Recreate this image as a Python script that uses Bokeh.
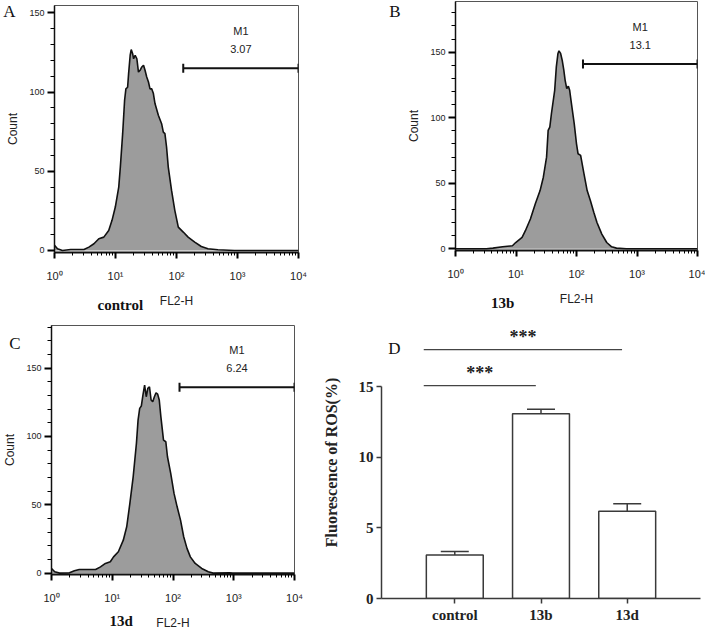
import math
from bokeh.plotting import figure
from bokeh.models import (Range1d, FixedTicker, Label, ColumnDataSource,
                          FactorRange, Whisker, TeeHead, LinearAxis)
from bokeh.layouts import row, column
from bokeh.embed import file_html
from bokeh.resources import INLINE

SANS = "Liberation Sans"
SERIF = "Liberation Serif"

# ---------------- data ----------------
# Panel A: control histogram (FL2-H intensity, count)
A_fl2 = [1.0, 1.12, 1.35, 1.84, 3.04, 3.66, 4.43, 5.33, 6.43, 7.74, 8.77, 9.93,
         11.3, 12.0, 13.1, 14.1, 14.8, 15.8, 16.4, 17.4, 18.1, 19.1, 19.8, 21.0,
         22.4, 23.8, 25.3, 27.0, 28.8, 30.5, 32.5, 34.7, 36.8, 39.2, 41.8, 44.4,
         50.4, 57.0, 60.8, 64.6, 68.7, 73.3, 83.0, 93.8, 107, 129, 155, 199, 255,
         328, 476, 887, 1140, 10000]
A_count = [3.2, 1.1, 0, 0.6, 0.6, 2.1, 4.2, 7.4, 8.4, 12.6, 19, 27.4,
           40, 52.6, 73.7, 94.8, 102, 103, 111.6, 123.2, 126.8, 124.2, 121, 123.2,
           121, 112.6, 113.7, 115.8, 116.9, 113.7, 109.5, 106.3, 102, 102, 99, 92.7,
           85.3, 80, 74.7, 73.7, 65.3, 52.6, 37.9, 25.3, 14.7, 11.6, 8.4, 5.3, 2.5,
           1.1, 0.4, 0, 0, 0]

# Panel B: 13b histogram
B_fl2 = [1.0, 3.24, 4.15, 6.01, 8.73, 9.88, 12.6, 14.3, 17.3, 20.8, 25.0, 28.3,
         32.0, 34.0, 36.2, 38.5, 43.6, 46.4, 49.4, 51.3, 54.6, 58.0, 61.7, 64.9,
         69.0, 73.4, 77.1, 81.1, 91.7, 100, 106, 117, 133, 150, 170, 193, 218,
         262, 316, 381, 458, 665, 851, 10000]
B_count = [0, 0, 0.5, 1.5, 2.3, 4.8, 8.7, 13.8, 22.7, 34.2, 44.4, 54.6,
           69.9, 90.3, 92.8, 103, 120.9, 138.7, 149, 151, 149, 143.8, 136.2, 128.5,
           122.2, 124, 120.9, 113.2, 95.4, 80.1, 72.5, 71.2, 57.2, 44.4, 36.7, 27.8, 20.1,
           11.2, 4.8, 1.5, 0.5, 0, 0, 0]

# Panel C: 13d histogram
C_fl2 = [1.0, 1.13, 1.36, 1.98, 2.38, 2.86, 5.32, 6.40, 7.71, 9.29, 10.5, 12.6,
         15.2, 17.3, 19.5, 22.1, 25.0, 26.6, 28.3, 30.1, 32.0, 34.1, 36.3, 38.5,
         41.0, 43.6, 46.4, 49.4, 52.5, 55.9, 59.4, 63.2, 69.8, 76.2, 81.1, 91.7,
         104, 117, 133, 150, 170, 193, 232, 297, 381, 458, 851, 964, 10000]
C_count = [3.4, 1.0, 0, 0.2, 1.7, 2.7, 2.7, 4.6, 7.1, 8.3, 11.9, 15.6,
           24.1, 33.9, 51, 70.4, 94.9, 111.9, 120.5, 122.2, 130.2, 137.5, 129, 135.1,
           136.3, 126.6, 125.3, 129, 131.9, 130.9, 126.6, 114.3, 97.3, 96.1, 85.1, 72.9,
           58.3, 48.5, 38.8, 26.6, 18.1, 11.9, 7.1, 3.4, 1.0, 0, 0.2, 0, 0]

# M1 marker (start intensity, height in counts, percentage text)
M1_start = [129, 128, 128]
M1_level = [115, 141, 136]
M1_pct = ["3.07", "13.1", "6.24"]
samples = ["control", "13b", "13d"]
letters = ["A", "B", "C", "D"]

# Panel D: bar chart
groups = ["control", "13b", "13d"]
ros_mean = [3.08, 13.07, 6.18]
ros_err = [0.24, 0.33, 0.52]
sig_pairs = [("control", "13b"), ("control", "13d")]
sig_levels = [15.07, 17.62]
sig_text = ["***", "***"]

# axis ticks / labels
x_major = [1, 10, 100, 1000, 10000]
x_minor = [m * 10 ** k for k in range(4) for m in range(2, 10)]
x_labels = {1: "10\u2070", 10: "10\u00b9", 100: "10\u00b2", 1000: "10\u00b3", 10000: "10\u2074"}

# ---------------- layout geometry (page pixels) ----------------
GEO = {
    "A": dict(x=0, y=0, w=340, h=316, frame=(52, 5, 298, 252)),
    "B": dict(x=340, y=0, w=365, h=316, frame=(455, 1, 697, 250)),
    "C": dict(x=0, y=316, w=318, h=316, frame=(45, 325, 294, 574)),
    "D": dict(x=318, y=316, w=387, h=316, frame=(381, 326, 700, 598)),
}
LETTER_POS = {"A": (13, 8), "B": (400, 8), "C": (14, 342.5), "D": (394, 347.5)}
SAMPLE_POS = {"A": (118, 307), "B": (502, 305), "C": (117, 623)}
Y_AXIS_EXTENT = 51     # measured width of the Count axis (ticks + labels + title)
X_AXIS_EXTENT = 61     # measured height of the FL2-H axis


def base_fig(g, **kw):
    fl, ft, fr, fb = g["frame"]
    p = figure(width=g["w"], height=g["h"], output_backend="svg", toolbar_location=None,
               min_border_left=fl - g["x"], min_border_right=g["x"] + g["w"] - fr,
               min_border_top=ft - g["y"], min_border_bottom=g["y"] + g["h"] - fb, **kw)
    try:
        p.frame_align = False
    except Exception:
        pass
    p.xgrid.visible = False
    p.ygrid.visible = False
    p.background_fill_color = "white"
    p.border_fill_color = "white"
    return p


def label_axis(standoff, **kw):
    return LinearAxis(axis_line_color=None, major_tick_line_color=None,
                      minor_tick_line_color=None, major_tick_in=0, major_tick_out=0,
                      minor_tick_in=0, minor_tick_out=0,
                      major_label_standoff=int(round(standoff)), **kw)


def flow_panel(key, fl2, count, y_lo, y_hi, y_top_tick, sample, m_start, m_level, m_pct):
    g = GEO[key]
    fl, ft, fr, fb = g["frame"]
    p = base_fig(g, x_axis_type="log", x_range=Range1d(1, 10000), y_range=Range1d(y_lo, y_hi))
    fw, fh = fr - fl, fb - ft
    pxc = fh / (y_hi - y_lo)

    def xdata(xp):
        return 10 ** ((xp - fl) / fw * 4)

    def ydata(yp):
        return y_hi - (yp - ft) / pxc

    p.outline_line_color = "#555555"
    p.outline_line_width = 1

    p.varea(x=fl2, y1=0, y2=count, fill_color="#9c9c9c")
    p.line(fl2, count, line_color="#111111", line_width=1.6)

    # M1 gate marker
    p.segment(x0=[m_start], y0=[m_level], x1=[10000], y1=[m_level],
              line_color="#111111", line_width=2)
    d = 4.5 / pxc
    p.segment(x0=[m_start, 10000], y0=[m_level - d] * 2, x1=[m_start, 10000],
              y1=[m_level + d] * 2, line_color="#111111", line_width=2)
    mid = math.sqrt(m_start * 10000)
    for txt, off in (("M1", 37), (m_pct, 19)):
        p.add_layout(Label(x=mid, y=m_level, y_offset=off, text=txt,
                           text_align="center", text_baseline="middle",
                           text_font=SANS, text_font_size="11px", text_color="#222222"))

    # main axes
    xa = p.xaxis[0]
    xa.ticker = FixedTicker(ticks=x_major, minor_ticks=x_minor)
    xa.major_label_overrides = x_labels
    xa.axis_label = "FL2-H"
    xa.axis_label_text_font = SANS
    xa.axis_label_text_font_style = "normal"
    xa.axis_label_text_font_size = "12px"
    xa.axis_label_text_color = "#222222"
    xa.axis_label_standoff = 9
    xa.major_label_text_font = SANS
    xa.major_label_text_font_size = "11px"
    xa.major_label_text_color = "#222222"
    xa.major_label_standoff = 11
    xa.axis_line_width = 2
    xa.axis_line_color = "#111111"
    xa.major_tick_in = 0
    xa.major_tick_out = 6
    xa.major_tick_line_width = 2
    xa.minor_tick_in = 0
    xa.minor_tick_out = 3
    xa.minor_tick_line_width = 1

    ya = p.yaxis[0]
    ya.ticker = FixedTicker(ticks=[0, 50, 100, 150],
                            minor_ticks=[v for v in range(10, y_top_tick + 1, 10) if v % 50])
    ya.axis_label = "Count"
    ya.axis_label_text_font = SANS
    ya.axis_label_text_font_style = "normal"
    ya.axis_label_text_font_size = "12px"
    ya.axis_label_text_color = "#222222"
    ya.axis_label_standoff = 6
    ya.major_label_text_font = SANS
    ya.major_label_text_font_size = "9px"
    ya.major_label_text_color = "#222222"
    ya.major_label_standoff = 3
    ya.axis_line_width = 1.5
    ya.axis_line_color = "#111111"
    ya.major_tick_in = 0
    ya.major_tick_out = 7
    ya.major_tick_line_width = 2
    ya.minor_tick_in = 0
    ya.minor_tick_out = 4
    ya.minor_tick_line_width = 1

    # panel letter: a label-only axis stacked outside the Count axis
    lx, ly = LETTER_POS[key]
    ly_d = int(round(ydata(ly)))
    la = label_axis((fl - Y_AXIS_EXTENT) - lx,
                    ticker=FixedTicker(ticks=[ly_d], minor_ticks=[]),
                    major_label_overrides={ly_d: key},
                    major_label_text_font=SERIF, major_label_text_font_size="17px",
                    major_label_text_color="#111111")
    p.add_layout(la, "left")

    # sample name: a label-only axis stacked below the FL2-H axis
    sx, sy = SAMPLE_POS[key]
    sx_d = int(round(xdata(sx)))
    sa = label_axis((sy - 8.5 - fb) - X_AXIS_EXTENT,
                    ticker=FixedTicker(ticks=[sx_d], minor_ticks=[]),
                    major_label_overrides={sx_d: sample},
                    major_label_text_font=SERIF, major_label_text_font_size="15px",
                    major_label_text_font_style="bold", major_label_text_color="#111111")
    p.add_layout(sa, "below")
    return p


pA = flow_panel("A", A_fl2, A_count, -1.3, 154.6, 150, samples[0], M1_start[0], M1_level[0], M1_pct[0])
pB = flow_panel("B", B_fl2, B_count, -1.3, 188.6, 180, samples[1], M1_start[1], M1_level[1], M1_pct[1])
pC = flow_panel("C", C_fl2, C_count, -1.0, 181.1, 180, samples[2], M1_start[2], M1_level[2], M1_pct[2])

# ---------------- panel D ----------------
gD = GEO["D"]
dl, dt, dr, db = gD["frame"]
D_pad = 0.35
D_top = 19.25
src = ColumnDataSource(dict(grp=groups, mean=ros_mean,
                            upper=[m + e for m, e in zip(ros_mean, ros_err)]))
pD = base_fig(gD,
              x_range=FactorRange(factors=groups, range_padding=D_pad,
                                  range_padding_units="absolute"),
              y_range=Range1d(0, D_top))
pD.outline_line_color = None

pD.vbar(x="grp", top="mean", width=0.66, source=src, fill_color="white",
        line_color="#3a3a3a", line_width=1.5)
pD.add_layout(Whisker(source=src, base="grp", upper="upper", lower="mean",
                      line_color="#3a3a3a", line_width=1.5,
                      upper_head=TeeHead(size=28, line_color="#3a3a3a", line_width=1.5),
                      lower_head=None))

centers = {g: i + 0.5 for i, g in enumerate(groups)}
for (a, b), lvl, st in zip(sig_pairs, sig_levels, sig_text):
    x0 = centers[a] - 0.36
    x1 = centers[b] - 0.06
    pD.segment(x0=[x0], y0=[lvl], x1=[x1], y1=[lvl], line_color="#444444", line_width=1.3)
    pD.add_layout(Label(x=(x0 + x1) / 2, y=lvl, y_offset=13, text=st,
                        text_align="center", text_baseline="middle",
                        text_font=SERIF, text_font_size="18px", text_font_style="bold",
                        text_color="#222222"))

dxp, dyp = LETTER_POS["D"]
span = len(groups) + 2 * D_pad
pD.add_layout(Label(x=-D_pad + (dxp - dl) / (dr - dl) * span,
                    y=D_top * (db - dyp) / (db - dt), text=letters[3],
                    text_align="center", text_baseline="middle",
                    text_font=SERIF, text_font_size="17px", text_color="#111111"))

xa = pD.xaxis[0]
xa.axis_line_color = "#3a3a3a"
xa.axis_line_width = 1.5
xa.major_tick_in = 0
xa.major_tick_out = 5
xa.major_tick_line_color = "#3a3a3a"
xa.major_tick_line_width = 1.5
xa.major_label_text_font = SERIF
xa.major_label_text_font_style = "bold"
xa.major_label_text_font_size = "15px"
xa.major_label_text_color = "#222222"
xa.major_label_standoff = 3

ya = pD.yaxis[0]
ya.bounds = (0, 15)
ya.ticker = FixedTicker(ticks=[0, 5, 10, 15])
ya.minor_tick_line_color = None
ya.axis_line_color = "#3a3a3a"
ya.axis_line_width = 1.5
ya.major_tick_in = 0
ya.major_tick_out = 5
ya.major_tick_line_color = "#3a3a3a"
ya.major_tick_line_width = 1.5
ya.major_label_text_font = SERIF
ya.major_label_text_font_style = "bold"
ya.major_label_text_font_size = "15px"
ya.major_label_text_color = "#222222"
ya.major_label_standoff = 3
ya.axis_label = "Fluorescence of ROS(%)"
ya.axis_label_text_font = SERIF
ya.axis_label_text_font_style = "bold"
ya.axis_label_text_font_size = "16px"
ya.axis_label_text_color = "#222222"
ya.axis_label_standoff = 16

layout = column(row(pA, pB), row(pC, pD))
open("out.html", "w").write(file_html(layout, INLINE))
